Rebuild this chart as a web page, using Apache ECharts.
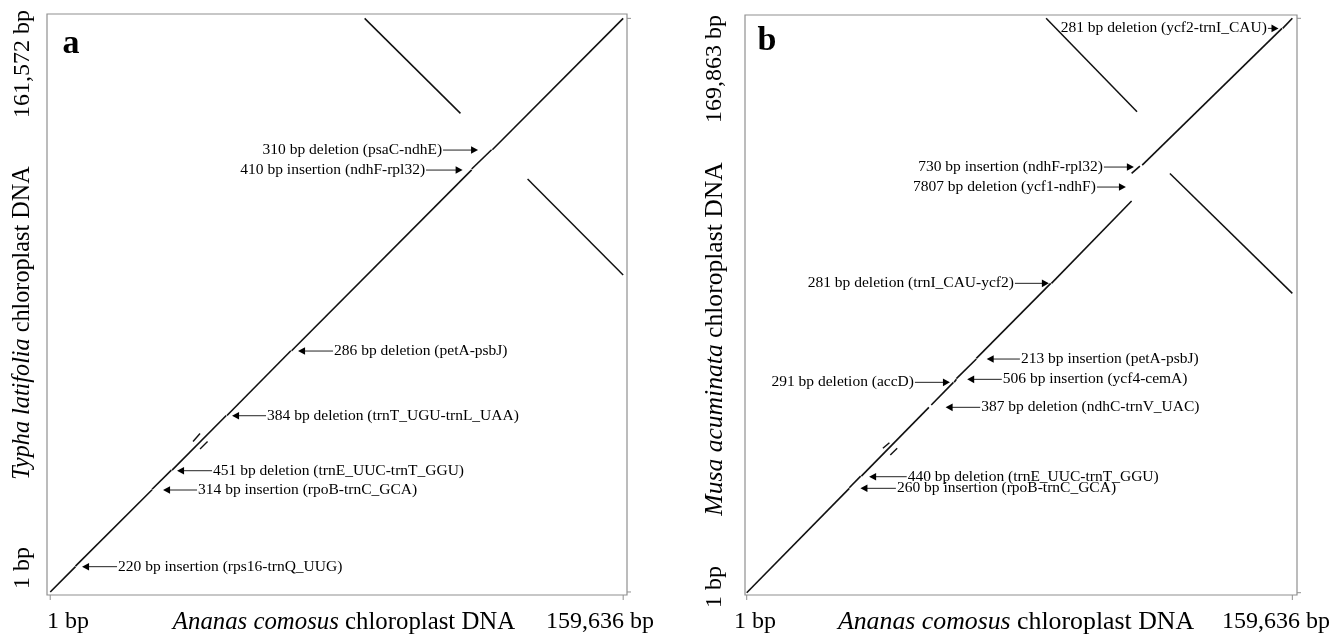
<!DOCTYPE html>
<html>
<head>
<meta charset="utf-8">
<script src="https://cdn.jsdelivr.net/npm/echarts@6/dist/echarts.min.js"></script>
<style>html,body{margin:0;padding:0;background:#fff}#c{width:1338px;height:636px}</style>
</head>
<body>
<div id="c"></div>
<script>
// ---------------- DATA ----------------
const xLengthA = 159636;            // Ananas comosus
const yLengthA = 161572;            // Typha latifolia
const xLengthB = 159636;            // Ananas comosus
const yLengthB = 169863;            // Musa acuminata

const xTickLabels = ['1 bp', '159,636 bp'];
const yTickLabelsA = ['1 bp', '161,572 bp'];
const yTickLabelsB = ['1 bp', '169,863 bp'];
const xTicksA = [1, 159636];
const yTicksA = [1, 161572];
const xTicksB = [1, 159636];
const yTicksB = [1, 169863];
const panelLabels = ['a', 'b'];
const xTitle = ['Ananas comosus', 'chloroplast DNA'];
const yTitleA = ['Typha latifolia', 'chloroplast DNA'];
const yTitleB = ['Musa acuminata', 'chloroplast DNA'];

// dot-plot alignment segments [x1, y1, x2, y2] (bp)
const diagA = [
  [1, 1, 7040, 7125],
  [7040, 7300, 28380, 28780],
  [28380, 28950, 33750, 34330],
  [33950, 34330, 49050, 49700],
  [49250, 49700, 67050, 67950],
  [67250, 67950, 117420, 118900],
  [117420, 119150, 122980, 124550],
  [123180, 124550, 159636, 161572]
];
const repeatsA = [
  [39790, 42380, 41740, 44640],
  [41740, 40270, 43830, 42380]
];
const invertedA = [
  [87600, 161572, 114300, 134800],
  [133000, 116300, 159636, 89300]
];

const diagB = [
  [1, 1, 30014, 30869],
  [30014, 31050, 33349, 34480],
  [33550, 34480, 53301, 54820],
  [54000, 55500, 60488, 62212],
  [60700, 62212, 61351, 63099],
  [61351, 63300, 67186, 69101],
  [67186, 69300, 88950, 91485],
  [89150, 91485, 112610, 115819],
  [112610, 124010, 115038, 126168],
  [115711, 126464, 156618, 166880],
  [156818, 166880, 159636, 169863]
];
const repeatsB = [
  [39850, 42700, 41750, 44350],
  [42010, 40710, 44030, 42700]
];
const invertedB = [
  [87600, 169863, 114200, 142224],
  [123815, 123950, 159636, 88528]
];

// annotations: text, arrow head x, arrow tail x, y (bp)
const annoTextA = [
  '310 bp deletion (psaC-ndhE)',
  '410 bp insertion (ndhF-rpl32)',
  '286 bp deletion (petA-psbJ)',
  '384 bp deletion (trnT_UGU-trnL_UAA)',
  '451 bp deletion (trnE_UUC-trnT_GGU)',
  '314 bp insertion (rpoB-trnC_GCA)',
  '220 bp insertion (rps16-trnQ_UUG)'
];
const annoHeadA = [119197, 114906, 69044, 50655, 35330, 31429, 8861];
const annoTailA = [109446, 104709, 78796, 60128, 45082, 40903, 18613];
const annoYA    = [124472, 118840, 67868, 49648, 34160, 28724, 7125];

const annoTextB = [
  '281 bp deletion (ycf2-trnI_CAU)',
  '730 bp insertion (ndhF-rpl32)',
  '7807 bp deletion (ycf1-ndhF)',
  '281 bp deletion (trnI_CAU-ycf2)',
  '213 bp insertion (petA-psbJ)',
  '506 bp insertion (ycf4-cemA)',
  '291 bp deletion (accD)',
  '387 bp deletion (ndhC-trnV_UAC)',
  '440 bp deletion (trnE_UUC-trnT_GGU)',
  '260 bp insertion (rpoB-trnC_GCA)'
];
const annoHeadB = [155588, 113283, 110943, 88414, 70217, 64511, 59450, 58192, 35811, 33265];
const annoTailB = [152487, 104506, 102458, 78470, 79930, 74634, 49210, 68315, 46811, 43651];
const annoYB    = [166884, 125872, 119959, 91485, 69101, 63099, 62212, 54820, 34299, 30869];

// ---------------- CHART ----------------
const SERIF = '"Liberation Serif", "Times New Roman", serif';
const INK = '#000';
const FRAME = '#909090';

function segRender(width) {
  return function (params, api) {
    const p1 = api.coord([api.value(0), api.value(1)]);
    const p2 = api.coord([api.value(2), api.value(3)]);
    return { type: 'line', shape: { x1: p1[0], y1: p1[1], x2: p2[0], y2: p2[1] },
      style: { stroke: '#111', lineWidth: width } };
  };
}
function arrowRender(texts) {
  return function (params, api) {
    const h = api.coord([api.value(0), api.value(2)]);
    const t = api.coord([api.value(1), api.value(2)]);
    const dir = h[0] >= t[0] ? 1 : -1;
    const L = 7, W = 3.8;
    return { type: 'group', children: [
      { type: 'line', shape: { x1: t[0], y1: t[1], x2: h[0] - dir * (L - 1), y2: h[1] },
        style: { stroke: '#222', lineWidth: 1 } },
      { type: 'polygon', shape: { points: [[h[0], h[1]], [h[0] - dir * L, h[1] - W], [h[0] - dir * L, h[1] + W]] },
        style: { fill: INK } },
      { type: 'text', x: t[0] - dir * 1, y: h[1],
        style: { text: texts[params.dataIndex], fill: INK, fontSize: 15.5, fontFamily: SERIF,
          align: dir > 0 ? 'right' : 'left', verticalAlign: 'middle' } }
    ] };
  };
}
// tick marks: x ticks below the frame, y ticks to the right of the frame
function tickRender(isX) {
  return function (params, api) {
    const cs = params.coordSys;
    const v = api.value(0);
    if (isX) {
      const p = api.coord([v, 1]);
      const yb = cs.y + cs.height;
      return { type: 'line', shape: { x1: p[0], y1: yb, x2: p[0], y2: yb + 5 }, style: { stroke: FRAME, lineWidth: 1 } };
    }
    const p = api.coord([1, v]);
    const xr = cs.x + cs.width;
    return { type: 'line', shape: { x1: xr, y1: p[1], x2: xr + 4, y2: p[1] }, style: { stroke: FRAME, lineWidth: 1 } };
  };
}
function segSeries(data, idx, width) {
  return { type: 'custom', xAxisIndex: idx, yAxisIndex: idx, data: data,
    encode: { x: [0, 2], y: [1, 3] }, renderItem: segRender(width), silent: true, clip: false };
}
function arrowSeries(head, tail, ys, texts, idx) {
  const data = head.map((h, i) => [h, tail[i], ys[i], i]);
  return { type: 'custom', xAxisIndex: idx, yAxisIndex: idx, data: data,
    encode: { x: [0, 1], y: 2 }, renderItem: arrowRender(texts), silent: true, clip: false };
}
function tickSeries(vals, idx, isX) {
  return { type: 'custom', xAxisIndex: idx, yAxisIndex: idx, data: vals.map(v => [v]),
    encode: isX ? { x: 0 } : { y: 0 }, renderItem: tickRender(isX), silent: true, clip: false };
}
function axisCfg(idx, min, max) {
  return { type: 'value', gridIndex: idx, min: min, max: max,
    axisLine: { show: false }, splitLine: { show: false }, axisLabel: { show: false }, axisTick: { show: false } };
}

function txt(x, y, text, size, opts) {
  return Object.assign({ type: 'text', x: x, y: y, silent: true,
    style: Object.assign({ text: text, fill: INK, fontSize: size, fontFamily: SERIF,
      align: 'center', verticalAlign: 'middle',
      rich: { i: { fontStyle: 'italic', fontSize: size, fontFamily: SERIF, fill: INK } } }, opts.style || {}) },
    opts.el || {});
}
const ROT = Math.PI / 2;
const graphics = [
  txt(71, 44, panelLabels[0], 34, { style: { fontWeight: 'bold' } }),
  txt(767, 41, panelLabels[1], 34, { style: { fontWeight: 'bold' } }),
  // panel a axis texts
  txt(68, 622, xTickLabels[0], 24, {}),
  txt(344, 622, '{i|' + xTitle[0] + '} ' + xTitle[1], 24.8, {}),
  txt(600, 622, xTickLabels[1], 24, {}),
  txt(23, 568, yTickLabelsA[0], 24, { el: { rotation: ROT } }),
  txt(23, 323, '{i|' + yTitleA[0] + '} ' + yTitleA[1], 24.2, { el: { rotation: ROT } }),
  txt(23, 64, yTickLabelsA[1], 24, { el: { rotation: ROT } }),
  // panel b axis texts
  txt(755, 622, xTickLabels[0], 24, {}),
  txt(1016, 622, '{i|' + xTitle[0] + '} ' + xTitle[1], 25.8, {}),
  txt(1276, 622, xTickLabels[1], 24, {}),
  txt(715, 587, yTickLabelsB[0], 24, { el: { rotation: ROT } }),
  txt(715, 339, '{i|' + yTitleB[0] + '} ' + yTitleB[1], 25.6, { el: { rotation: ROT } }),
  txt(715, 69, yTickLabelsB[1], 24, { el: { rotation: ROT } })
];

const chart = echarts.init(document.getElementById('c'), null, { renderer: 'canvas' });
chart.setOption({
  animation: false,
  backgroundColor: '#fff',
  grid: [
    { left: 47, top: 14, width: 580, height: 581, show: true, borderColor: FRAME, borderWidth: 1.2, backgroundColor: 'transparent' },
    { left: 745, top: 15, width: 552, height: 580, show: true, borderColor: FRAME, borderWidth: 1.2, backgroundColor: 'transparent' }
  ],
  xAxis: [axisCfg(0, -900, 160700), axisCfg(1, -500, 161000)],
  yAxis: [axisCfg(0, -850, 162800), axisCfg(1, -680, 170840)],
  series: [
    segSeries(diagA, 0, 1.6), segSeries(repeatsA, 0, 1.4), segSeries(invertedA, 0, 1.5),
    arrowSeries(annoHeadA, annoTailA, annoYA, annoTextA, 0),
    tickSeries(xTicksA, 0, true), tickSeries(yTicksA, 0, false),
    segSeries(diagB, 1, 1.6), segSeries(repeatsB, 1, 1.4), segSeries(invertedB, 1, 1.5),
    arrowSeries(annoHeadB, annoTailB, annoYB, annoTextB, 1),
    tickSeries(xTicksB, 1, true), tickSeries(yTicksB, 1, false)
  ],
  graphic: graphics
});
</script>
</body>
</html>
